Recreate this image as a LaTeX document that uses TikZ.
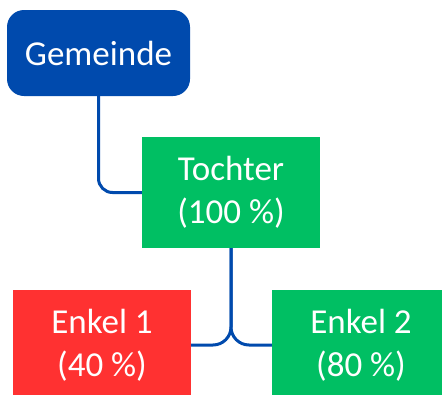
\documentclass[tikz,border=0pt]{standalone}
\usepackage{fontspec}
\setmainfont{Carlito}
\definecolor{cblue}{RGB}{0,74,173}
\definecolor{cgreen}{RGB}{0,191,99}
\definecolor{cred}{RGB}{255,49,49}
\begin{document}
\begin{tikzpicture}[x=1pt,y=-1pt,
  box/.style={inner sep=0pt, text=white, align=center, font=\fontsize{35}{43}\selectfont},
  conn/.style={draw=cblue, line width=3pt, rounded corners=14pt}]
\useasboundingbox (0,0) rectangle (442,394);
\node[box, fill=cblue, rounded corners=17pt, minimum width=183pt, minimum height=86pt] (g) at (98.5,53) {Gemeinde};
\node[box, fill=cgreen, minimum width=178pt, minimum height=111pt] (t) at (231,192.5) {Tochter\\(100 \%)};
\node[box, fill=cred, minimum width=178pt, minimum height=111pt] (e1) at (102,345) {Enkel 1\\(40 \%)};
\node[box, fill=cgreen, minimum width=178pt, minimum height=111pt] (e2) at (361,345) {Enkel 2\\(80 \%)};
\draw[conn] (g.south) |- (t.west);
\draw[conn, rounded corners=18pt] (t.south) |- (e1.east);
\draw[conn, rounded corners=18pt] (t.south) |- (e2.west);
\end{tikzpicture}
\end{document}
